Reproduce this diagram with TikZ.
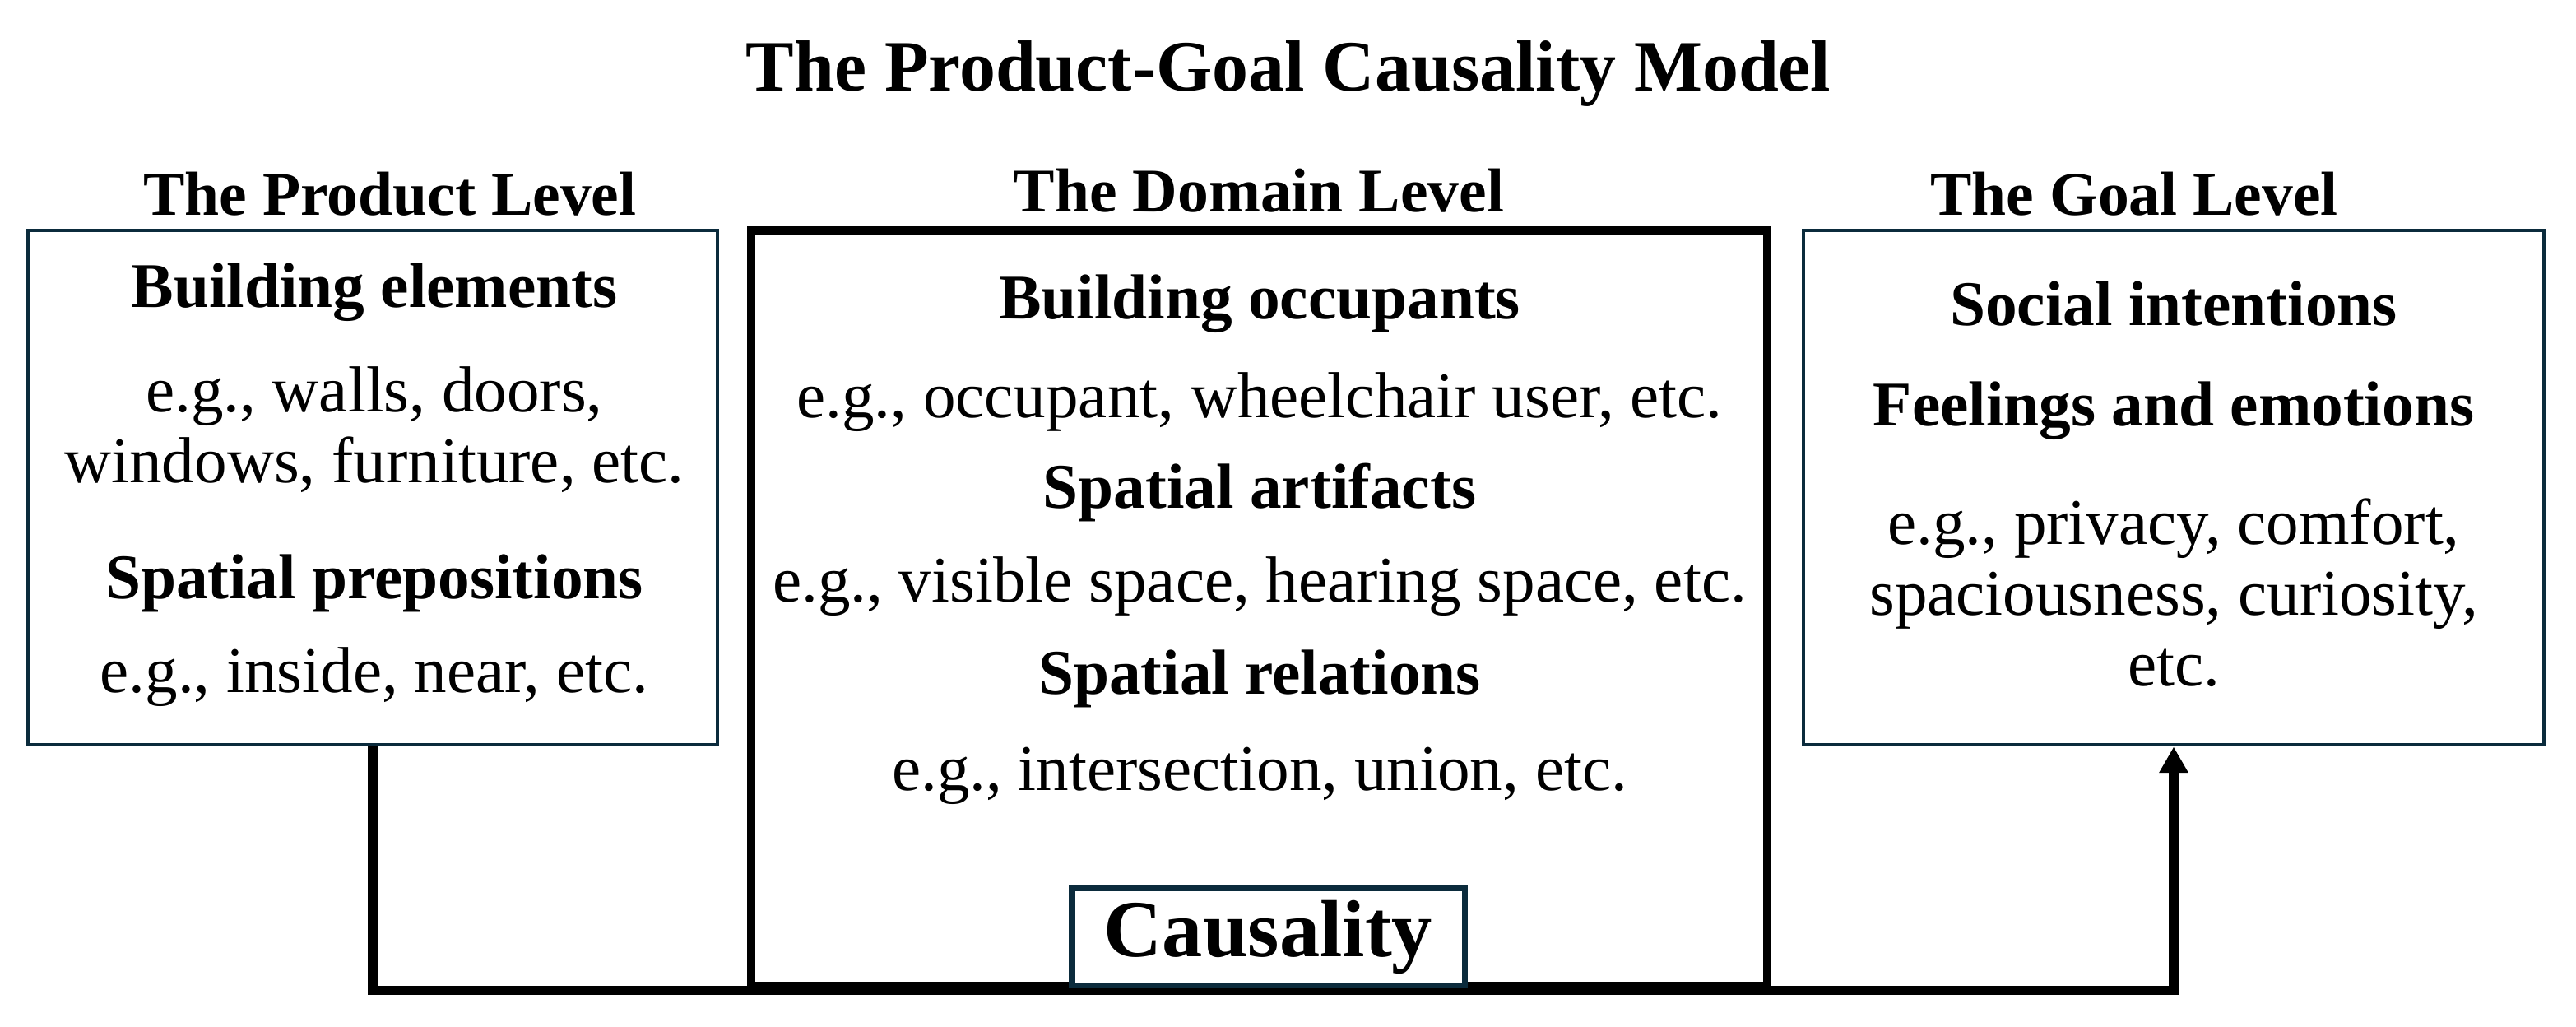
\documentclass[tikz,border=0pt]{standalone}
\usepackage{fontspec}
\setmainfont{Liberation Serif}
\usepackage{xcolor}
\usetikzlibrary{arrows.meta,positioning}
\definecolor{framenavy}{HTML}{0B2B3C}
\begin{document}
\begin{tikzpicture}[>=Stealth,
    sidebox/.style={draw=framenavy, line width=1.4pt, inner sep=0pt},
    domainbox/.style={draw=black, line width=3.1pt, inner sep=0pt},
    headtext/.style={font=\bfseries\fontsize{22}{24}\selectfont},
    bodytext/.style={font=\fontsize{22.5}{24.5}\selectfont, align=center},
    leveltext/.style={font=\bfseries\fontsize{21.5}{24}\selectfont}]
    \useasboundingbox (0,0) rectangle (31.31,12.48);

    % Title
    \node[font=\bfseries\fontsize{25}{30}\selectfont] (title) at (15.66,11.58) {The Product-Goal Causality Model};

    % Level captions
    \node[leveltext] (productlvl) at (4.74,10.12) {The Product Level};
    \node[leveltext] (domainlvl) at (15.30,10.16) {The Domain Level};
    \node[leveltext] (goallvl) at (25.94,10.12) {The Goal Level};

    % Draw the three level boxes
    \node[sidebox, minimum width=8.38cm, minimum height=6.25cm] (product) at (4.53,6.555) {};
    \node[domainbox, minimum width=12.35cm, minimum height=9.18cm] (domain) at (15.305,5.09) {};
    \node[sidebox, minimum width=9.00cm, minimum height=6.25cm] (goal) at (26.42,6.555) {};

    % Product level contents
    \node[headtext] (belem) at (4.55,8.93) {Building elements};
    \node[bodytext] (belemeg) at (4.55,7.26) {e.g., walls, doors,\\windows, furniture, etc.};
    \node[headtext] (sprep) at (4.55,5.39) {Spatial prepositions};
    \node[bodytext] (sprepeg) at (4.55,4.25) {e.g., inside, near, etc.};

    % Domain level contents
    \node[headtext] (boccu) at (15.31,8.79) {Building occupants};
    \node[bodytext] (boccueg) at (15.31,7.59) {e.g., occupant, wheelchair user, etc.};
    \node[headtext] (sart) at (15.31,6.49) {Spatial artifacts};
    \node[bodytext] (sarteg) at (15.31,5.35) {e.g., visible space, hearing space, etc.};
    \node[headtext] (srel) at (15.31,4.23) {Spatial relations};
    \node[bodytext] (sreleg) at (15.31,3.05) {e.g., intersection, union, etc.};

    % Goal level contents
    \node[headtext] (sint) at (26.42,8.79) {Social intentions};
    \node[headtext] (feel) at (26.42,7.49) {Feelings and emotions};
    \node[bodytext] (feeleg) at (26.42,5.28) {e.g., privacy, comfort,\\spaciousness, curiosity,\\etc.};

    % Causality link
    \draw[line width=3.2pt, ->, >={Triangle[width=9.5pt,length=9pt]}] (product.south) |- (domain.south) -| (goal.south);
    \node[draw=framenavy, line width=2pt, fill=white, minimum width=4.77cm, minimum height=1.18cm,
          font=\bfseries\fontsize{28}{32}\selectfont] (causality) at (15.415,1.09) {Causality};
\end{tikzpicture}
\end{document}
